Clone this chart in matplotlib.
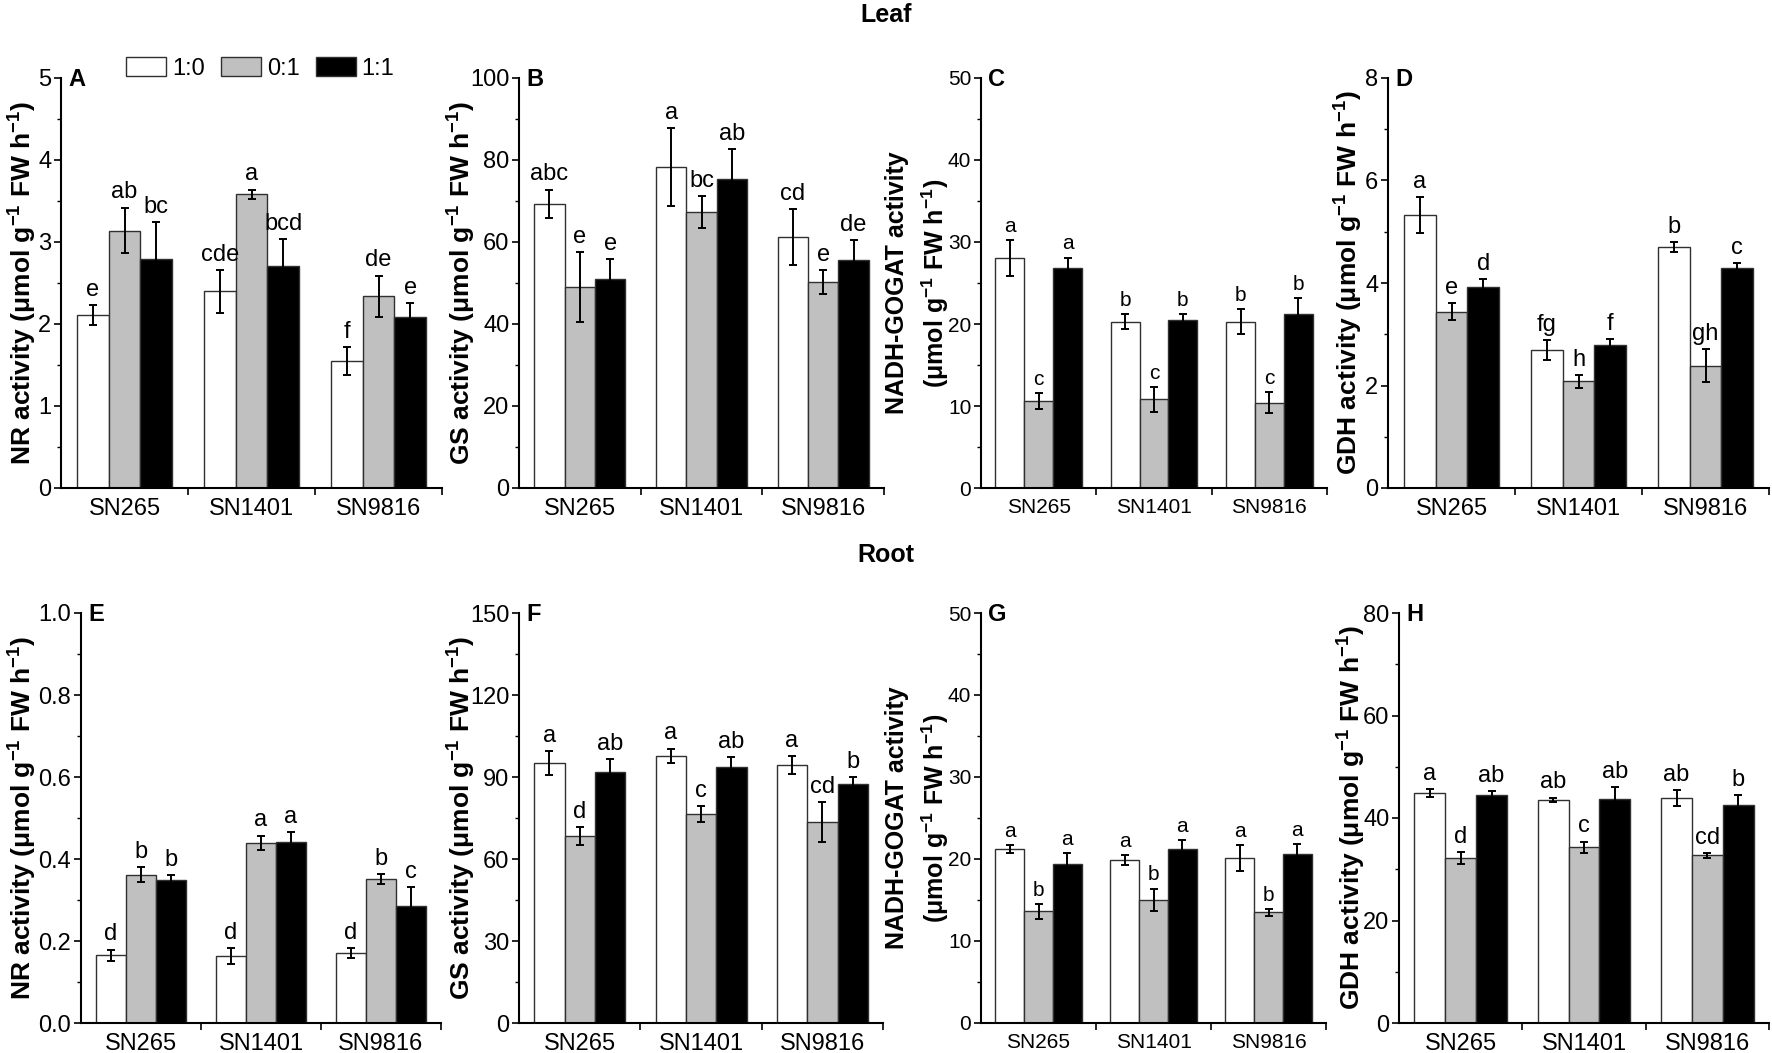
import matplotlib
matplotlib.use('Agg')
import matplotlib.pyplot as plt
from matplotlib.patches import Patch
from matplotlib.ticker import MultipleLocator, FixedLocator, FormatStrFormatter
from matplotlib import font_manager
import numpy as np

plt.rcParams['font.family'] = ['Liberation Sans', 'DejaVu Sans']
plt.rcParams['mathtext.default'] = 'regular'
names = {f.name for f in font_manager.fontManager.ttflist}
narrow = 'Liberation Sans Narrow' if 'Liberation Sans Narrow' in names else 'Liberation Sans'

W, H = 1772, 1053

cultivars = ['SN265', 'SN1401', 'SN9816']
ratios = ['1:0', '0:1', '1:1']
colors = ['#ffffff', '#c0c0c0', '#000000']

# values: one row per ratio (1:0, 0:1, 1:1), one column per cultivar
nr_leaf = [[2.11, 2.40, 1.55], [3.14, 3.58, 2.34], [2.79, 2.71, 2.09]]
nr_leaf_err = [[0.12, 0.26, 0.17], [0.28, 0.06, 0.25], [0.45, 0.33, 0.17]]
nr_leaf_sig = [['e', 'cde', 'f'], ['ab', 'a', 'de'], ['bc', 'bcd', 'e']]

gs_leaf = [[69.3, 78.2, 61.3], [49.0, 67.2, 50.2], [50.9, 75.3, 55.6]]
gs_leaf_err = [[3.5, 9.5, 6.8], [8.6, 3.9, 2.9], [5.0, 7.4, 4.9]]
gs_leaf_sig = [['abc', 'a', 'cd'], ['e', 'bc', 'e'], ['e', 'ab', 'de']]

gogat_leaf = [[28.0, 20.3, 20.3], [10.6, 10.8, 10.4], [26.8, 20.5, 21.2]]
gogat_leaf_err = [[2.2, 0.9, 1.5], [1.0, 1.5, 1.3], [1.3, 0.7, 2.0]]
gogat_leaf_sig = [['a', 'b', 'b'], ['c', 'c', 'c'], ['a', 'b', 'b']]

gdh_leaf = [[5.33, 2.69, 4.70], [3.44, 2.08, 2.39], [3.93, 2.79, 4.29]]
gdh_leaf_err = [[0.35, 0.19, 0.10], [0.17, 0.12, 0.32], [0.14, 0.12, 0.10]]
gdh_leaf_sig = [['a', 'fg', 'b'], ['e', 'h', 'gh'], ['d', 'f', 'c']]

nr_root = [[0.165, 0.163, 0.171], [0.362, 0.439, 0.351], [0.350, 0.441, 0.285]]
nr_root_err = [[0.014, 0.020, 0.012], [0.018, 0.018, 0.012], [0.010, 0.024, 0.047]]
nr_root_sig = [['d', 'd', 'd'], ['b', 'a', 'b'], ['b', 'a', 'c']]

gs_root = [[95.1, 97.8, 94.3], [68.3, 76.5, 73.5], [91.8, 93.7, 87.6]]
gs_root_err = [[4.3, 2.6, 3.3], [3.3, 2.8, 7.2], [4.8, 3.7, 2.3]]
gs_root_sig = [['a', 'a', 'a'], ['d', 'c', 'cd'], ['ab', 'ab', 'b']]

gogat_root = [[21.2, 19.9, 20.1], [13.6, 15.0, 13.5], [19.4, 21.2, 20.6]]
gogat_root_err = [[0.5, 0.6, 1.6], [0.9, 1.4, 0.4], [1.3, 1.1, 1.2]]
gogat_root_sig = [['a', 'a', 'a'], ['b', 'b', 'b'], ['a', 'a', 'a']]

gdh_root = [[44.9, 43.6, 43.9], [32.2, 34.3, 32.7], [44.4, 43.8, 42.6]]
gdh_root_err = [[0.8, 0.4, 1.5], [1.1, 1.1, 0.5], [0.9, 2.2, 1.8]]
gdh_root_sig = [['a', 'ab', 'ab'], ['d', 'c', 'cd'], ['ab', 'ab', 'b']]

unit = '(μmol g$^{-1}$ FW h$^{-1}$)'

# panel: letter, data, box (left, right, top, bottom in px), ymax, ystep, label, label x, small font
panels = [
    ('A', nr_leaf, nr_leaf_err, nr_leaf_sig, (61, 442, 78, 488), 5, 1, 'NR activity ' + unit, 23, False),
    ('B', gs_leaf, gs_leaf_err, gs_leaf_sig, (519, 884, 78, 488), 100, 20, 'GS activity ' + unit, 462, False),
    ('C', gogat_leaf, gogat_leaf_err, gogat_leaf_sig, (981, 1327, 78, 488), 50, 10,
     'NADH-GOGAT activity\n' + unit, 918, True),
    ('D', gdh_leaf, gdh_leaf_err, gdh_leaf_sig, (1388, 1769, 78, 488), 8, 2, 'GDH activity ' + unit, 1349, False),
    ('E', nr_root, nr_root_err, nr_root_sig, (81, 441, 613, 1023), 1.0, 0.2, 'NR activity ' + unit, 23, False),
    ('F', gs_root, gs_root_err, gs_root_sig, (519, 883, 613, 1023), 150, 30, 'GS activity ' + unit, 462, False),
    ('G', gogat_root, gogat_root_err, gogat_root_sig, (981, 1326, 613, 1023), 50, 10,
     'NADH-GOGAT activity\n' + unit, 918, True),
    ('H', gdh_root, gdh_root_err, gdh_root_sig, (1399, 1769, 613, 1023), 80, 20, 'GDH activity ' + unit, 1352, False),
]

fig = plt.figure(figsize=(W / 100, H / 100), dpi=100)

x = np.arange(1, len(cultivars) + 1)
width = 0.25
offsets = [-width, 0, width]

for letter, vals, errs, sigs, box, ymax, ystep, ylabel, labx, small in panels:
    l, r, t, b = box
    ax = fig.add_axes([l / W, 1 - b / H, (r - l) / W, (b - t) / H])
    fs = 15 if small else 17
    for i in range(3):
        xs = x + offsets[i]
        ax.bar(xs, vals[i], width, color=colors[i], edgecolor='#303030', linewidth=1.0, zorder=2)
        ax.errorbar(xs, vals[i], yerr=errs[i], fmt='none', ecolor='black', elinewidth=1.4,
                    capsize=2.6, capthick=1.4, zorder=3)
        for xi, v, e, s in zip(xs, vals[i], errs[i], sigs[i]):
            ax.annotate(s, (xi, v + e), xytext=(0, 3), textcoords='offset points',
                        ha='center', va='bottom', fontsize=fs)
    ax.set_xlim(0.5, 3.5)
    ax.set_ylim(0, ymax)
    ax.set_xticks(x)
    ax.set_xticklabels(cultivars, fontsize=fs)
    ax.xaxis.set_minor_locator(FixedLocator([1.5, 2.5, 3.5]))
    ax.tick_params(axis='x', which='major', length=0, pad=7)
    ax.tick_params(axis='x', which='minor', length=5, width=1.2, direction='out')
    ax.yaxis.set_major_locator(MultipleLocator(ystep))
    ax.yaxis.set_minor_locator(MultipleLocator(ystep / 2))
    if ymax <= 1:
        ax.yaxis.set_major_formatter(FormatStrFormatter('%.1f'))
    ax.tick_params(axis='y', which='major', length=5, width=1.2, direction='out', pad=2,
                   labelsize=fs, labelfontfamily=narrow)
    ax.tick_params(axis='y', which='minor', length=3, width=1.0, direction='out')
    for sp in ['top', 'right']:
        ax.spines[sp].set_visible(False)
    for sp in ['left', 'bottom']:
        ax.spines[sp].set_linewidth(1.5)
    ax.annotate(letter, xy=(0, 1), xycoords='axes fraction', xytext=(5, -1),
                textcoords='offset points', ha='left', va='center', fontsize=17, fontweight='bold')
    fig.text(labx / W, 1 - ((t + b) / 2) / H, ylabel, rotation=90, ha='center', va='center',
             fontsize=18 if small else 19, fontweight='bold', linespacing=1.45)
    if letter == 'A':
        handles = [Patch(facecolor=c, edgecolor='#303030', linewidth=1.0) for c in colors]
        ax.legend(handles, ratios, ncol=3, loc='lower left', bbox_to_anchor=(126 / W, 1 - 80 / H),
                  bbox_transform=fig.transFigure, frameon=False, fontsize=17, handlelength=1.7,
                  handleheight=0.85, handletextpad=0.25, columnspacing=0.68, borderpad=0,
                  borderaxespad=0)

fig.text(886 / W, 1 - 15 / H, 'Leaf', ha='center', va='center', fontsize=18, fontweight='bold')
fig.text(886 / W, 1 - 555 / H, 'Root', ha='center', va='center', fontsize=18, fontweight='bold')

fig.savefig('out.png', dpi=100)
